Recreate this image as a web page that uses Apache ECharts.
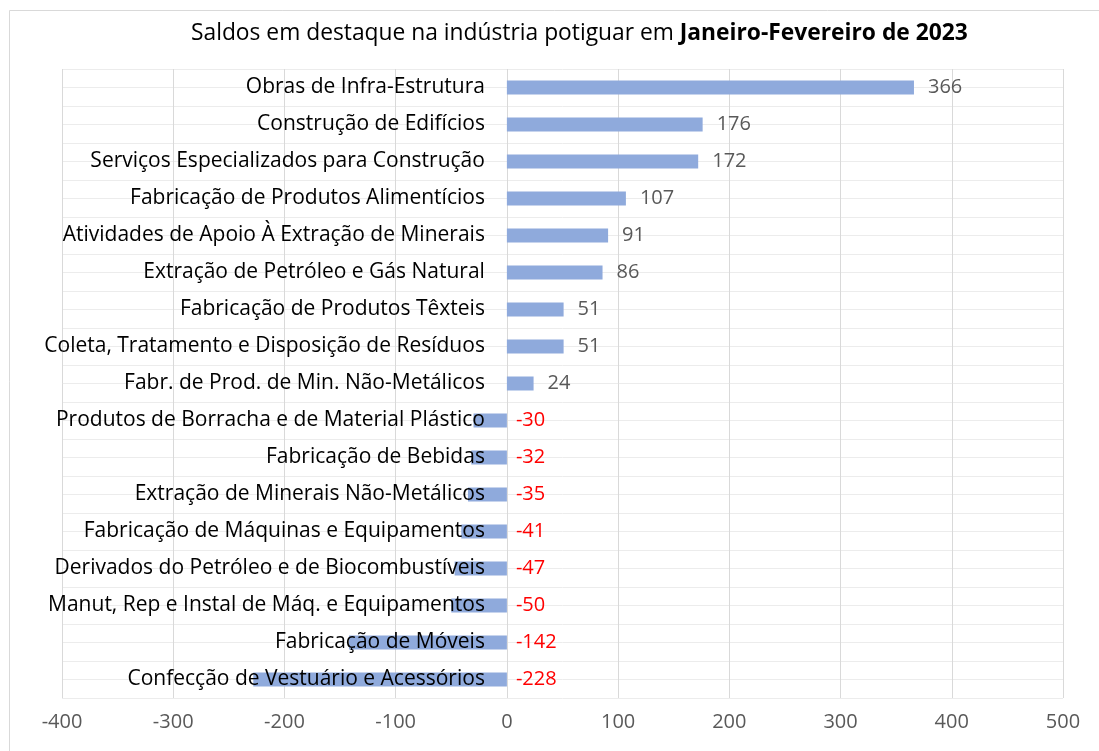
<!DOCTYPE html>
<html>
<head>
<meta charset="utf-8">
<script src="https://cdn.jsdelivr.net/npm/echarts@6/dist/echarts.min.js"></script>
<style>
  html, body { margin: 0; padding: 0; background: #fff; }
  #chart { width: 1099px; height: 751px; }
</style>
</head>
<body>
<div id="chart"></div>
<script>
// categorias (de cima para baixo)
const categories = [
  'Obras de Infra-Estrutura',
  'Construção de Edifícios',
  'Serviços Especializados para Construção',
  'Fabricação de Produtos Alimentícios',
  'Atividades de Apoio À Extração de Minerais',
  'Extração de Petróleo e Gás Natural',
  'Fabricação de Produtos Têxteis',
  'Coleta, Tratamento e Disposição de Resíduos',
  'Fabr. de Prod. de Min. Não-Metálicos',
  'Produtos de Borracha e de Material Plástico',
  'Fabricação de Bebidas',
  'Extração de Minerais Não-Metálicos',
  'Fabricação de Máquinas e Equipamentos',
  'Derivados do Petróleo e de Biocombustíveis',
  'Manut, Rep e Instal de Máq. e Equipamentos',
  'Fabricação de Móveis',
  'Confecção de Vestuário e Acessórios'
];
// saldos
const saldos = [366, 176, 172, 107, 91, 86, 51, 51, 24, -30, -32, -35, -41, -47, -50, -142, -228];
// eixo x
const xMin = -400;
const xMax = 500;
const xStep = 100;

const FONT = 'Open Sans';
const W = 1099;
const gridLeft = 62;
const gridRight = 36;
// rótulos das categorias ficam junto ao zero (offset negativo = para a direita)
const zeroOffset = -(0 - xMin) / (xMax - xMin) * (W - gridLeft - gridRight);

const chart = echarts.init(document.getElementById('chart'));

chart.setOption({
  backgroundColor: '#fff',
  textStyle: { fontFamily: FONT },
  graphic: [{
    type: 'rect',
    shape: { x: 9.5, y: 10.5, width: 1200, height: 900 },
    style: { fill: 'none', stroke: '#d9d9d9', lineWidth: 1 },
    z: -10
  }],
  title: {
    text: '{n|Saldos em destaque na indústria potiguar em }{b|Janeiro-Fevereiro de 2023}',
    left: 186,
    top: 17,
    textStyle: {
      rich: {
        n: { fontFamily: FONT, fontSize: 22.8, color: '#000', fontWeight: 'normal' },
        b: { fontFamily: FONT, fontSize: 22.8, color: '#000', fontWeight: 'bold' }
      }
    }
  },
  grid: {
    left: gridLeft,
    right: gridRight,
    top: 69,
    bottom: 53,
    containLabel: false,
    outerBoundsMode: 'none'
  },
  xAxis: {
    type: 'value',
    min: xMin,
    max: xMax,
    interval: xStep,
    axisLine: { show: false, onZero: false },
    axisTick: { show: false },
    axisLabel: {
      fontFamily: FONT,
      fontSize: 20,
      color: '#595959',
      margin: 14
    },
    splitLine: { lineStyle: { color: '#d9d9d9', width: 1 } }
  },
  yAxis: [
    {
      type: 'category',
      data: categories,
      inverse: true,
      position: 'left',
      offset: zeroOffset,
      z: 5,
      axisLine: { show: false, onZero: false },
      axisTick: { show: false },
      axisLabel: {
        fontFamily: FONT,
        fontSize: 21,
        color: '#000',
        margin: 22
      },
      splitLine: { show: false }
    },
    {
      // linhas horizontais a cada meia categoria
      type: 'value',
      min: 0,
      max: categories.length * 2,
      interval: 1,
      axisLine: { show: false, onZero: false },
      axisTick: { show: false },
      axisLabel: { show: false },
      splitLine: { lineStyle: { color: '#ececec', width: 1 } }
    }
  ],
  series: [{
    type: 'bar',
    yAxisIndex: 0,
    barWidth: 14,
    z: 2,
    data: saldos.map(v => ({
      value: v,
      label: { color: v < 0 ? '#ff0000' : '#595959', distance: v < 0 ? 9 : 14 }
    })),
    itemStyle: { color: '#8faadc' },
    label: {
      show: true,
      position: 'right',
      distance: 14,
      fontFamily: FONT,
      fontSize: 20
    }
  }]
});
</script>
</body>
</html>
